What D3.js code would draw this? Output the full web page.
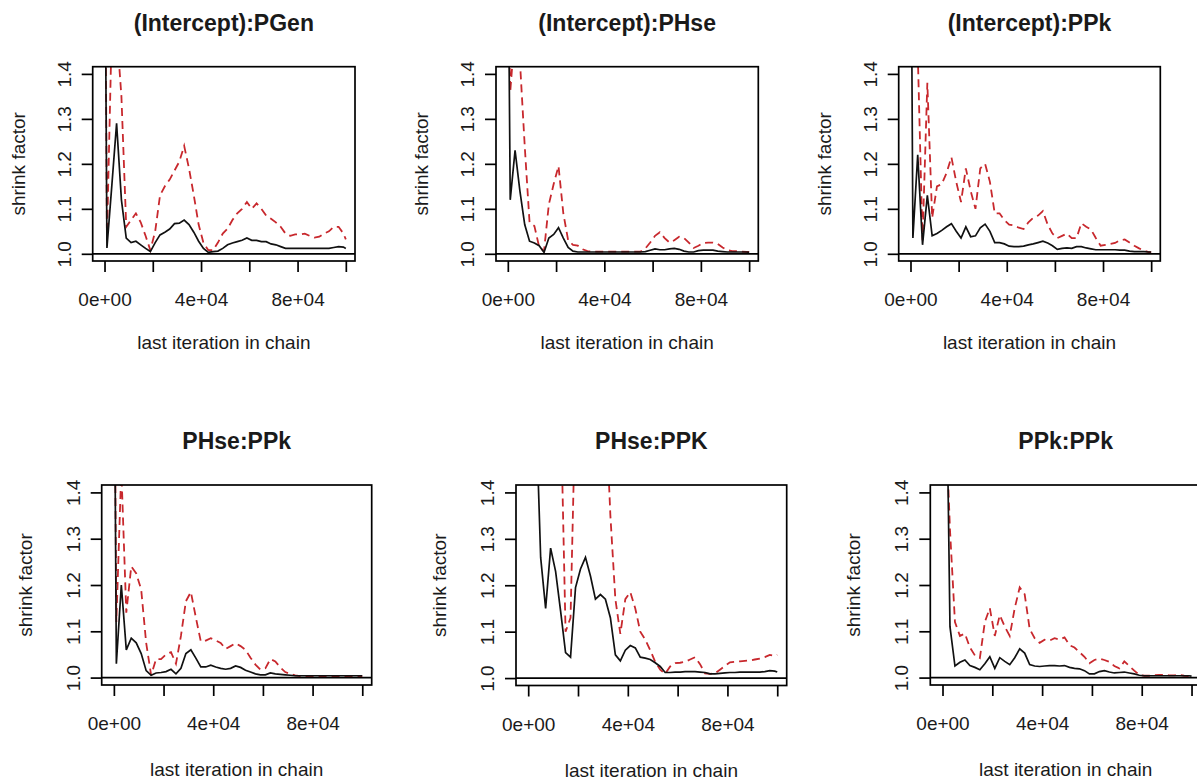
<!DOCTYPE html>
<html>
<head>
<meta charset="utf-8">
<title>gelman shrink factor</title>
<script src="https://cdn.jsdelivr.net/npm/d3@7/dist/d3.min.js"></script>
<style>
body { margin: 0; background: #fff; }
text { font-family: "Liberation Sans", Arial, sans-serif; fill: #1a1a1a; }
</style>
</head>
<body>
<svg width="1197" height="780"></svg>
<script>

// last iteration in chain (shared by every panel)
var iterations = [500, 1000, 3000, 5000, 7000, 9000, 11000, 13000, 15000, 17000, 19000,
  21000, 23000, 25000, 27000, 29000, 31000, 33000, 35000, 37000, 39000,
  41000, 43000, 45000, 47000, 49000, 51000, 53000, 55000, 57000, 59000,
  61000, 63000, 65000, 67000, 69000, 71000, 73000, 75000, 77000, 79000,
  81000, 83000, 85000, 87000, 89000, 91000, 93000, 95000, 97000, 99000, 100000];

var titles = ["(Intercept):PGen", "(Intercept):PHse", "(Intercept):PPk",
  "PHse:PPk", "PHse:PPK", "PPk:PPk"];

// median shrink factor (black) and 97.5% quantile (red dashed)
var medPGen = [1.45, 1.013, 1.15, 1.29, 1.12, 1.035, 1.025, 1.028, 1.02, 1.012, 1.005, 1.025, 1.042, 1.048, 1.055, 1.067, 1.068, 1.075, 1.065, 1.048, 1.028, 1.012, 1.003, 1.005, 1.006, 1.012, 1.02, 1.024, 1.027, 1.03, 1.035, 1.03, 1.03, 1.027, 1.027, 1.022, 1.02, 1.016, 1.012, 1.012, 1.012, 1.012, 1.012, 1.012, 1.012, 1.012, 1.012, 1.012, 1.014, 1.016, 1.015, 1.012];
var uppPGen = [1.5, 1.03, 1.5, 1.5, 1.35, 1.06, 1.075, 1.09, 1.07, 1.04, 1.008, 1.05, 1.13, 1.15, 1.165, 1.185, 1.205, 1.24, 1.19, 1.13, 1.065, 1.024, 1.008, 1.008, 1.025, 1.045, 1.056, 1.075, 1.09, 1.10, 1.115, 1.10, 1.112, 1.10, 1.085, 1.078, 1.07, 1.06, 1.045, 1.04, 1.043, 1.043, 1.045, 1.04, 1.036, 1.038, 1.045, 1.05, 1.06, 1.06, 1.045, 1.032];

var medPHse = [1.45, 1.12, 1.23, 1.14, 1.065, 1.028, 1.024, 1.018, 1.003, 1.035, 1.043, 1.058, 1.035, 1.014, 1.006, 1.004, 1.004, 1.004, 1.004, 1.004, 1.004, 1.004, 1.004, 1.004, 1.004, 1.004, 1.004, 1.004, 1.004, 1.005, 1.008, 1.011, 1.009, 1.009, 1.011, 1.012, 1.01, 1.006, 1.004, 1.004, 1.007, 1.008, 1.008, 1.008, 1.006, 1.005, 1.004, 1.004, 1.004, 1.004, 1.004, 1.003];
var uppPHse = [1.5, 1.36, 1.5, 1.43, 1.24, 1.07, 1.062, 1.015, 1.006, 1.11, 1.155, 1.195, 1.09, 1.03, 1.02, 1.018, 1.01, 1.006, 1.005, 1.005, 1.005, 1.005, 1.005, 1.005, 1.005, 1.005, 1.005, 1.005, 1.005, 1.012, 1.025, 1.04, 1.048, 1.035, 1.025, 1.03, 1.038, 1.035, 1.025, 1.013, 1.018, 1.024, 1.025, 1.025, 1.022, 1.014, 1.008, 1.006, 1.006, 1.005, 1.004, 1.004];

var medPPk = [1.5, 1.035, 1.22, 1.02, 1.13, 1.04, 1.045, 1.052, 1.06, 1.067, 1.05, 1.035, 1.06, 1.038, 1.04, 1.058, 1.066, 1.05, 1.025, 1.025, 1.022, 1.017, 1.016, 1.016, 1.017, 1.02, 1.022, 1.025, 1.028, 1.024, 1.018, 1.01, 1.012, 1.013, 1.012, 1.016, 1.016, 1.013, 1.011, 1.009, 1.009, 1.009, 1.009, 1.009, 1.008, 1.008, 1.006, 1.005, 1.005, 1.005, 1.004, 1.004];
var uppPPk = [1.5, 1.5, 1.45, 1.03, 1.38, 1.08, 1.15, 1.155, 1.18, 1.215, 1.16, 1.115, 1.19, 1.14, 1.10, 1.19, 1.20, 1.16, 1.09, 1.09, 1.075, 1.065, 1.063, 1.058, 1.055, 1.07, 1.08, 1.085, 1.095, 1.065, 1.045, 1.035, 1.04, 1.045, 1.035, 1.035, 1.068, 1.06, 1.054, 1.035, 1.018, 1.02, 1.022, 1.024, 1.03, 1.032, 1.025, 1.018, 1.012, 1.007, 1.004, 1.003];

var medHsePk = [1.45, 1.03, 1.2, 1.06, 1.085, 1.075, 1.052, 1.015, 1.005, 1.01, 1.011, 1.013, 1.018, 1.008, 1.02, 1.052, 1.06, 1.042, 1.023, 1.023, 1.027, 1.023, 1.02, 1.018, 1.02, 1.025, 1.022, 1.016, 1.012, 1.008, 1.006, 1.006, 1.01, 1.008, 1.007, 1.006, 1.005, 1.004, 1.004, 1.004, 1.004, 1.004, 1.004, 1.004, 1.004, 1.004, 1.004, 1.004, 1.004, 1.004, 1.004, 1.004];
var uppHsePk = [1.5, 1.12, 1.45, 1.14, 1.24, 1.225, 1.19, 1.075, 1.005, 1.04, 1.04, 1.05, 1.055, 1.03, 1.09, 1.165, 1.185, 1.13, 1.078, 1.08, 1.085, 1.08, 1.075, 1.062, 1.068, 1.074, 1.068, 1.06, 1.043, 1.028, 1.017, 1.02, 1.04, 1.035, 1.022, 1.012, 1.008, 1.005, 1.003, 1.003, 1.003, 1.003, 1.003, 1.003, 1.003, 1.003, 1.003, 1.003, 1.003, 1.003, 1.003, 1.003];

var medHsePK = [1.6, 1.6, 1.6, 1.26, 1.15, 1.28, 1.23, 1.145, 1.055, 1.045, 1.195, 1.235, 1.26, 1.22, 1.17, 1.18, 1.17, 1.13, 1.05, 1.037, 1.06, 1.07, 1.065, 1.045, 1.043, 1.04, 1.033, 1.025, 1.012, 1.012, 1.013, 1.013, 1.014, 1.014, 1.014, 1.013, 1.012, 1.009, 1.009, 1.01, 1.011, 1.012, 1.012, 1.013, 1.013, 1.013, 1.013, 1.013, 1.014, 1.016, 1.015, 1.013];
var uppHsePK = [1.6, 1.6, 1.6, 1.6, 1.6, 1.6, 1.6, 1.6, 1.10, 1.13, 1.6, 1.6, 1.6, 1.6, 1.6, 1.6, 1.6, 1.35, 1.17, 1.095, 1.17, 1.185, 1.15, 1.10, 1.083, 1.06, 1.035, 1.018, 1.009, 1.025, 1.032, 1.033, 1.035, 1.04, 1.045, 1.03, 1.01, 1.009, 1.01, 1.018, 1.026, 1.034, 1.035, 1.036, 1.037, 1.038, 1.04, 1.042, 1.045, 1.05, 1.048, 1.05];

var medPkPk = [1.6, 1.9, 1.11, 1.025, 1.033, 1.038, 1.026, 1.022, 1.017, 1.03, 1.045, 1.02, 1.043, 1.035, 1.028, 1.043, 1.062, 1.053, 1.028, 1.025, 1.024, 1.025, 1.026, 1.026, 1.025, 1.026, 1.022, 1.02, 1.019, 1.015, 1.008, 1.008, 1.013, 1.015, 1.012, 1.01, 1.011, 1.012, 1.01, 1.008, 1.005, 1.004, 1.004, 1.004, 1.004, 1.004, 1.004, 1.004, 1.004, 1.004, 1.004, 1.003];
var uppPkPk = [1.6, 1.6, 1.32, 1.12, 1.09, 1.095, 1.065, 1.048, 1.042, 1.12, 1.15, 1.09, 1.135, 1.11, 1.09, 1.15, 1.195, 1.18, 1.105, 1.085, 1.075, 1.082, 1.08, 1.085, 1.082, 1.087, 1.07, 1.065, 1.055, 1.045, 1.031, 1.038, 1.041, 1.038, 1.034, 1.025, 1.02, 1.035, 1.025, 1.015, 1.006, 1.004, 1.004, 1.005, 1.006, 1.006, 1.005, 1.005, 1.006, 1.004, 1.003, 1.003];

var medians = [medPGen, medPHse, medPPk, medHsePk, medHsePK, medPkPk];
var uppers = [uppPGen, uppPHse, uppPPk, uppHsePk, uppHsePK, uppPkPk];

var xTicks = [0, 20000, 40000, 60000, 80000, 100000];
var xTickLabels = ["0e+00", "", "4e+04", "", "8e+04", ""];
var yTicks = [1.0, 1.1, 1.2, 1.3, 1.4];

// plot regions [left, top, right, bottom] in pixels
var boxes = [
  [92.7, 66.7, 355, 261],
  [496, 66.7, 758.3, 261],
  [898.7, 66.7, 1160.3, 261],
  [101.7, 485, 371.7, 685],
  [516, 485, 786.7, 685.5],
  [930.3, 485, 1201, 685]
];

var svg = d3.select("svg");

boxes.forEach(function(b, p) {

  if (medians[p].length != iterations.length || uppers[p].length != iterations.length) {
    throw new Error("panel " + p + " has " + medians[p].length + "/" + uppers[p].length + " values");
  }

  var h = b[3] - b[1];

  var x = d3.scaleLinear().domain([-4900, 103800]).range([b[0], b[2]]);
  var y = d3.scaleLinear().domain([0.984, 1.416]).range([b[3], b[1]]);

  var g = svg.append("g");

  svg.append("clipPath").attr("id", "clip" + p)
    .append("rect")
    .attr("x", b[0]).attr("y", b[1])
    .attr("width", b[2] - b[0]).attr("height", h);

  var line = d3.line()
    .x(function(d, i) { return x(iterations[i]); })
    .y(function(d) { return y(d); });

  var plot = g.append("g").attr("clip-path", "url(#clip" + p + ")");

  plot.append("path")
    .attr("d", line(uppers[p]))
    .attr("fill", "none")
    .attr("stroke", "#c8282d")
    .attr("stroke-width", 1.8)
    .attr("stroke-dasharray", "8,5");

  plot.append("path")
    .attr("d", line(medians[p]))
    .attr("fill", "none")
    .attr("stroke", "#111")
    .attr("stroke-width", 1.7);

  // abline(h = 1)
  g.append("line")
    .attr("x1", b[0]).attr("x2", b[2])
    .attr("y1", y(1)).attr("y2", y(1))
    .attr("stroke", "black").attr("stroke-width", 1.7);

  // box
  g.append("rect")
    .attr("x", b[0]).attr("y", b[1])
    .attr("width", b[2] - b[0]).attr("height", h)
    .attr("fill", "none").attr("stroke", "black").attr("stroke-width", 1.7);

  var xAxis = g.append("g")
    .attr("transform", "translate(0," + b[3] + ")")
    .call(d3.axisBottom(x).tickValues(xTicks).tickSize(11).tickSizeOuter(0)
      .tickFormat(function(d, i) { return xTickLabels[i]; }));
  xAxis.select(".domain").remove();
  xAxis.selectAll("line").attr("stroke-width", 1.7);
  xAxis.selectAll("text")
    .attr("y", 0).attr("dy", 0)
    .attr("transform", "translate(0,45)")
    .style("font-size", "19px")
    .style("fill", "#1a1a1a")
    .style("font-family", "'Liberation Sans', Arial, sans-serif");

  var yAxis = g.append("g")
    .attr("transform", "translate(" + b[0] + ",0)")
    .call(d3.axisLeft(y).tickValues(yTicks).tickSize(11).tickSizeOuter(0)
      .tickFormat(d3.format(".1f")));
  yAxis.select(".domain").remove();
  yAxis.selectAll("line").attr("stroke-width", 1.7);
  yAxis.selectAll("text")
    .attr("x", 0).attr("y", -22).attr("dy", 0)
    .attr("transform", "rotate(-90)")
    .attr("text-anchor", "middle")
    .style("font-size", "19px")
    .style("fill", "#1a1a1a")
    .style("font-family", "'Liberation Sans', Arial, sans-serif");

  var cx = (b[0] + b[2]) / 2;
  var cy = (b[1] + b[3]) / 2;

  g.append("text")
    .attr("x", cx).attr("y", b[1] - 0.182 * h)
    .attr("text-anchor", "middle")
    .style("font-size", "23px")
    .style("font-weight", "bold")
    .text(titles[p]);

  g.append("text")
    .attr("x", cx).attr("y", b[3] + 0.454 * h)
    .attr("text-anchor", "middle")
    .style("font-size", "19px")
    .text("last iteration in chain");

  g.append("text")
    .attr("transform", "translate(" + (b[0] - 0.35 * h) + "," + cy + ") rotate(-90)")
    .attr("text-anchor", "middle")
    .style("font-size", "19px")
    .text("shrink factor");
});

</script>
</body>
</html>
